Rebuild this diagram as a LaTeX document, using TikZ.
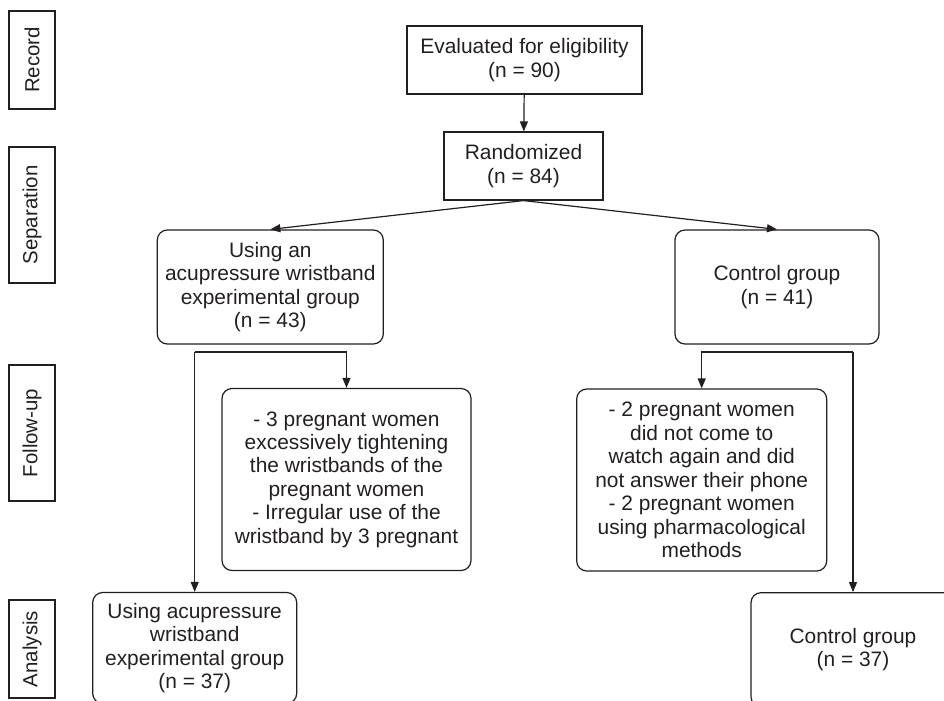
\documentclass[tikz,border=0pt]{standalone}
\usepackage{fontspec}
\setmainfont{Liberation Sans}
\usetikzlibrary{arrows.meta}
\definecolor{Ink}{HTML}{231F20}
\tikzset{
  squarebox/.style={draw=Ink,line width=1.2bp,inner sep=0bp,align=center,
    text=Ink,font=\fontsize{21}{23.5}\selectfont},
  roundbox/.style={squarebox,rounded corners=10bp},
  phasebox/.style={draw=Ink,line width=1.2bp,inner sep=0bp,rotate=90,
    minimum height=46bp,text=Ink,font=\fontsize{20.5}{20.5}\selectfont},
  flow/.style={draw=Ink,line width=1.2bp,-{Triangle[length=10bp,width=8bp]}},
}

\begin{document}
\begin{tikzpicture}[x=1bp,y=-1bp]
  \path[use as bounding box] (0,0) rectangle (944,701);
  \clip (0,0) rectangle (944,701);

  % phase labels down the left margin
  \node[phasebox,minimum width=98bp]  (record)   at (32,60)  {Record};
  \node[phasebox,minimum width=136bp] (separate) at (32,215) {Separation};
  \node[phasebox,minimum width=136bp] (followup) at (32,433) {Follow-up};
  \node[phasebox,minimum width=98bp]  (analysis) at (32,649) {Analysis};

  % enrolment and allocation
  \node[squarebox,minimum width=235bp,minimum height=68bp] (eval) at (524.5,60)
    {Evaluated for eligibility\\(n = 90)};
  \node[squarebox,minimum width=159bp,minimum height=68bp] (rand) at (523.5,166)
    {Randomized\\(n = 84)};
  \node[roundbox,minimum width=226bp,minimum height=114bp] (expgrp) at (270.3,287)
    {Using an\\acupressure wristband\\experimental group\\(n = 43)};
  \node[roundbox,minimum width=204bp,minimum height=114bp] (ctlgrp) at (777,287)
    {Control group\\(n = 41)};

  % losses to follow-up
  \node[roundbox,minimum width=249bp,minimum height=182bp] (explost) at (346.5,479.5)
    {- 3 pregnant women\\excessively tightening\\the wristbands of the\\pregnant women\\
     - Irregular use of the\\wristband by 3 pregnant};
  \node[roundbox,minimum width=250bp,minimum height=182bp] (ctllost) at (701.7,480)
    {- 2 pregnant women\\did not come to\\watch again and did\\not answer their phone\\
     - 2 pregnant women\\using pharmacological\\methods};

  % analysed groups
  \node[roundbox,minimum width=204bp,minimum height=111bp] (expfinal) at (194.7,648)
    {Using acupressure\\wristband\\experimental group\\(n = 37)};
  \node[roundbox,minimum width=204bp,minimum height=114bp] (ctlfinal) at (853,649.7)
    {Control group\\(n = 37)};

  \coordinate (expsplit) at (194.7,352);
  \coordinate (ctlsplit) at (853,352);

  \draw[flow] (eval) -- (rand);
  \draw[flow] (rand.south) -- (expgrp.north);
  \draw[flow] (rand.south) -- (ctlgrp.north);
  \draw[flow] (expsplit) -| (explost.north);
  \draw[flow] (expsplit) -- (expfinal.north);
  \draw[flow] (ctlsplit) -| (ctllost.north);
  \draw[flow] (ctlsplit) -- (ctlfinal.north);
\end{tikzpicture}
\end{document}
